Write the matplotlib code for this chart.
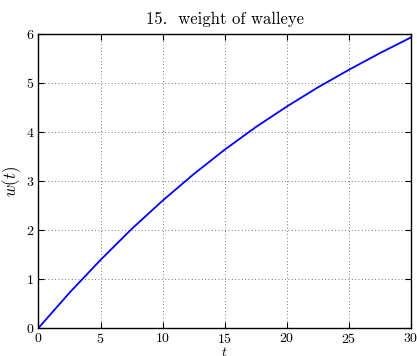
import matplotlib
matplotlib.use("Agg")
import matplotlib.pyplot as plt

plt.rcParams['font.family'] = 'cmr10'
plt.rcParams['mathtext.fontset'] = 'cm'
plt.rcParams['axes.formatter.use_mathtext'] = True

t_vals = [0, 2.5, 5, 7.5, 10, 12.5, 15, 17.5, 20, 22.5, 25, 27.5, 30]
w_vals = [0, 0.72, 1.39, 2.02, 2.60, 3.14, 3.64, 4.10, 4.52, 4.91, 5.27, 5.61, 5.93]
x_ticks = [0, 5, 10, 15, 20, 25, 30]
y_ticks = [0, 1, 2, 3, 4, 5, 6]
title = "15.  weight of walleye"

fig = plt.figure(figsize=(4.17, 3.56), dpi=100)
ax = fig.add_axes([0.0923, 0.0787, 0.8933, 0.8258])
ax.plot(t_vals, w_vals, color='#0000ff', lw=1.3)
ax.set_xlim(0, 30)
ax.set_ylim(0, 6)
ax.set_xticks(x_ticks)
ax.set_yticks(y_ticks)
ax.tick_params(direction='in', top=True, right=True, labelsize=10, length=4, pad=3)
ax.grid(True, linestyle=(0, (1, 3)), color='black', lw=0.6, alpha=0.7)
for s in ax.spines.values():
    s.set_linewidth(1.0)
ax.set_title(title, fontsize=12, pad=7)
ax.set_ylabel(r'$w(t)$', fontsize=12, labelpad=2)
ax.set_xlabel(r'$t$', fontsize=10, labelpad=0)
fig.savefig('out.png', dpi=100)
